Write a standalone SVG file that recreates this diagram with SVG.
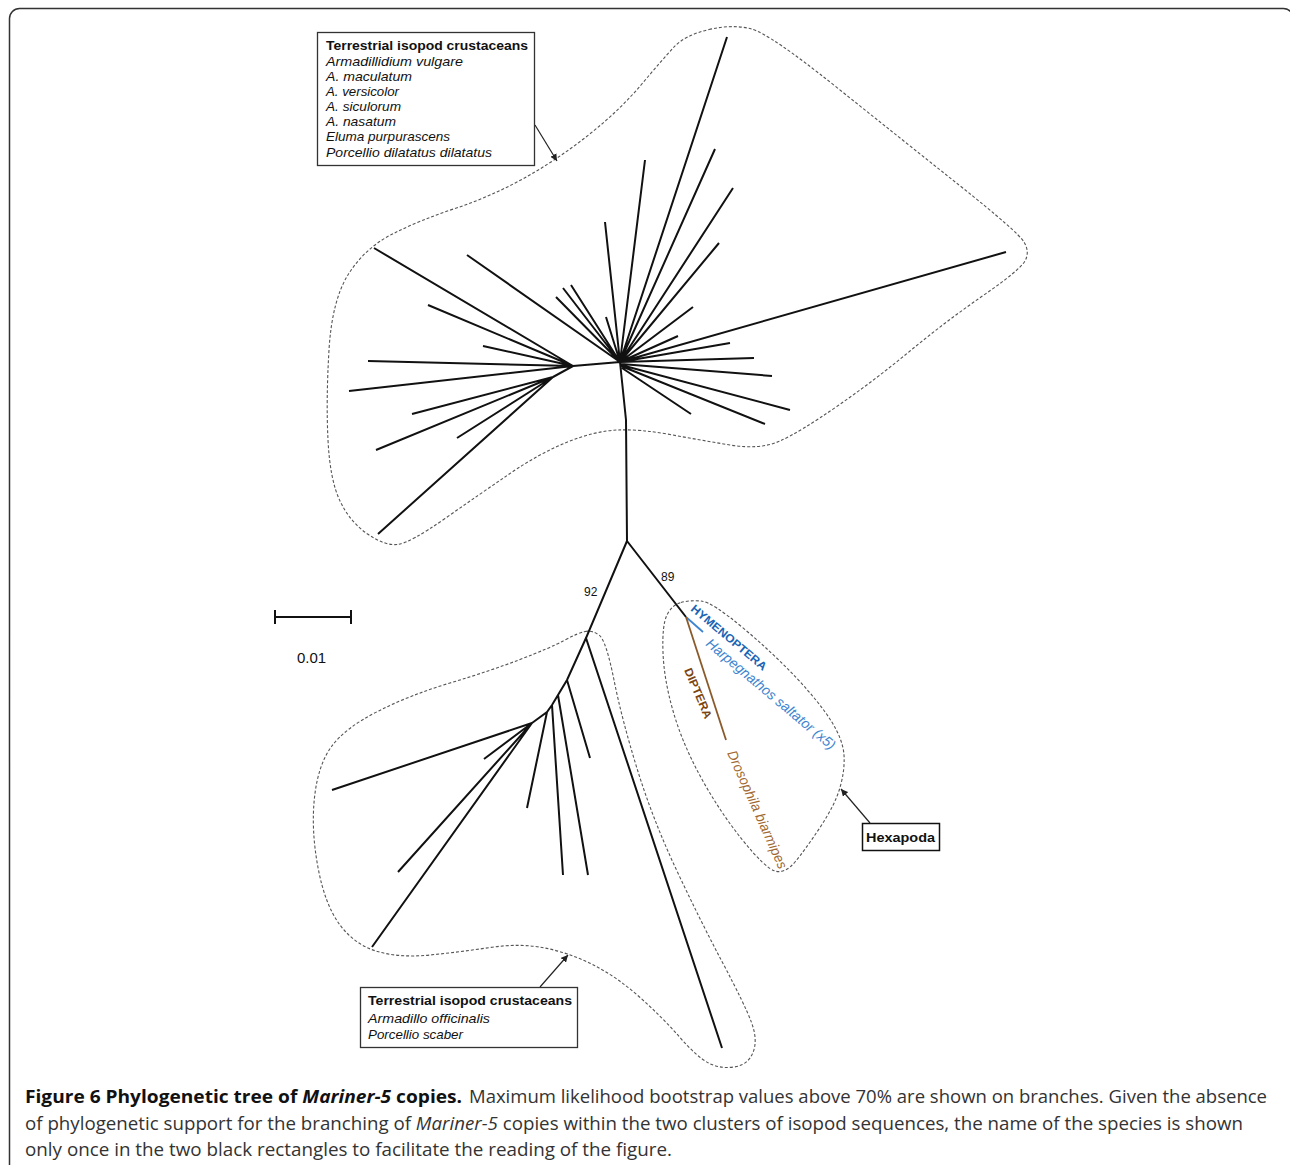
<svg xmlns="http://www.w3.org/2000/svg" width="1290" height="1165" viewBox="0 0 1290 1165">
<style>
.br{fill:none;stroke:#111;stroke-width:2;stroke-linecap:butt}
.dash{fill:none;stroke:#555;stroke-width:1.1;stroke-dasharray:3 2}
.box{fill:#fff;stroke:#333;stroke-width:1.3}
.bt{font-family:"Liberation Sans",Arial,sans-serif;font-size:13px;font-weight:bold;fill:#111}
.it{font-family:"Liberation Sans",Arial,sans-serif;font-size:13px;font-style:italic;fill:#111}
.num{font-family:"Liberation Sans",Arial,sans-serif;font-size:12px;fill:#111}
.cap{font-family:"Open Sans","Liberation Sans",sans-serif;font-size:18px;fill:#333}
.capb{font-family:"Open Sans","Liberation Sans",sans-serif;font-size:18px;font-weight:bold;fill:#111}
.arr{fill:none;stroke:#222;stroke-width:1.2}
</style>
<defs>
<marker id="ah" viewBox="0 0 10 10" refX="10" refY="5" markerWidth="7" markerHeight="7" markerUnits="userSpaceOnUse" orient="auto">
<path d="M0,0 L10,5 L0,10 Z" fill="#222"/>
</marker>
</defs>
<rect x="9.5" y="8.5" width="1284" height="1200" rx="10" fill="none" stroke="#333" stroke-width="1.5"/>

<g id="clusters">
<path id="top-cluster" class="dash" d="M 709,29.5 Q 733,24 751.5,29 Q 770,34 835,86 Q 900,138 959,185 Q 1018,232 1024,242 Q 1030,252 1025,261 Q 1020,270 982.5,296 Q 945,322 910,351 Q 875,380 837.5,406 Q 800,432 780,441 Q 760,450 730,445 Q 700,440 670,434.5 Q 640,429 617.5,430 Q 595,431 567.5,442 Q 540,453 510,473.5 Q 480,494 445,518.5 Q 410,543 397.5,544.5 Q 385,546 367.5,534 Q 350,522 340,501 Q 330,480 328,440 Q 326,400 329,350 Q 332,300 348.5,274 Q 365,248 392.5,234 Q 420,220 455,208.5 Q 490,197 523.5,178.5 Q 557,160 588.5,135 Q 620,110 641,85 Q 662,60 673.5,47.5 Q 685,35 709,29.5 Z"/>
<path id="bottom-cluster" class="dash" d="M 585,631.5 Q 592,630 599,635 Q 606,640 614,680 Q 622,720 637.5,770 Q 653,820 676.5,870 Q 700,920 722.5,962.5 Q 745,1005 751.5,1022.5 Q 758,1040 753,1052.5 Q 748,1065 734,1067 Q 720,1069 708.5,1063 Q 697,1057 679.5,1037 Q 662,1017 639.5,997 Q 617,977 593.5,965 Q 570,953 545,948 Q 520,943 490,947.5 Q 460,952 430,955 Q 400,958 377.5,951.5 Q 355,945 340,925 Q 325,905 318,867.5 Q 311,830 314.5,797.5 Q 318,765 331.5,746.5 Q 345,728 377.5,711.5 Q 410,695 450,683 Q 490,671 520,659.5 Q 550,648 564,640.5 Q 578,633 585,631.5 Z"/>
<path id="hexapoda-cluster" class="dash" d="M 681,602.5 Q 690,600 701,601 Q 712,602 742.5,627.5 Q 773,653 796.5,678 Q 820,703 831.5,721.5 Q 843,740 844,755 Q 845,770 840,787.5 Q 835,805 820,827.5 Q 805,850 795,862 Q 785,874 775,871 Q 765,868 742.5,840 Q 720,812 701.5,778.5 Q 683,745 673.5,712.5 Q 664,680 663,652.5 Q 662,625 667,615 Q 672,605 681,602.5 Z"/>
</g>

<g id="tree">
<path class="br" d="M620,362 L573,366 L553,377 M620,362 L626,420 L627,541
M573,366 L374,248 M573,366 L428,305 M573,366 L483,346 M573,366 L368,361 M573,366 L349,391
M553,377 L412,414 M553,377 L376,450 M553,377 L457,438 M553,377 L378,534
M620,362 L467,255 M620,362 L556,297 M620,362 L563,288 M620,362 L571,285 M620,362 L606,317 M620,362 L605,222 M620,362 L645,160 M620,362 L727,37 M620,362 L715,149 M620,362 L733,188 M620,362 L719,243 M620,362 L693,307 M620,362 L678,336 M620,362 L1006,252 M620,362 L730,343 M620,362 L754,358 M621,364 L772,376 M621,365 L790,410 M621,366 L765,424 M622,368 L691,414"/>
<path class="br" d="M627,541 L586,638 L722,1048 M586,638 L567,680 L558,695 L552,705 L547,712 L532,723
M567,680 L590,758 M558,695 L588,875 M552,705 L563,875 M547,712 L527,808
M532,723 L332,790 M532,723 L484,759 M532,723 L398,872 M532,723 L372,947
M627,541 L686,617"/>
<path d="M686,617 L703,632" fill="none" stroke="#3d85cf" stroke-width="1.8"/>
<path d="M686,617 L726,740" fill="none" stroke="#8b5a2b" stroke-width="1.8"/>
<text class="num" x="584" y="596">92</text>
<text class="num" x="661" y="581">89</text>
</g>

<g id="scale-bar">
<path class="br" d="M274,617 L352,617 M275,610 L275,624 M351,610 L351,624"/>
<text x="297" y="663" font-family="Liberation Sans, Arial, sans-serif" font-size="15" fill="#111">0.01</text>
</g>

<g id="hexapoda-labels">
<text transform="translate(690,610) rotate(40)" font-family="Liberation Sans, Arial, sans-serif" font-size="11.5" font-weight="bold" fill="#1a64b4" textLength="95" lengthAdjust="spacingAndGlyphs">HYMENOPTERA</text>
<text transform="translate(705,645) rotate(40)" font-family="Liberation Sans, Arial, sans-serif" font-size="14" font-style="italic" fill="#3d85cf" textLength="164" lengthAdjust="spacingAndGlyphs">Harpegnathos saltator (x5)</text>
<text transform="translate(684,670) rotate(67)" font-family="Liberation Sans, Arial, sans-serif" font-size="11.5" font-weight="bold" fill="#7b4512" textLength="54" lengthAdjust="spacingAndGlyphs">DIPTERA</text>
<text transform="translate(727,753) rotate(66)" font-family="Liberation Sans, Arial, sans-serif" font-size="14" font-style="italic" fill="#a0682f" textLength="128" lengthAdjust="spacingAndGlyphs">Drosophila biarmipes</text>
</g>

<g id="connectors">
<path class="arr" d="M535,125 L557,161" marker-end="url(#ah)"/>
<path class="arr" d="M540,987 L568,955" marker-end="url(#ah)"/>
<path class="arr" d="M870,823 L841,789" marker-end="url(#ah)"/>
</g>

<g id="box-top">
<rect class="box" x="317.5" y="32.5" width="217" height="133"/>
<text class="bt" x="326" y="50" textLength="202" lengthAdjust="spacingAndGlyphs">Terrestrial isopod crustaceans</text>
<text class="it" x="326" y="66" textLength="137" lengthAdjust="spacingAndGlyphs">Armadillidium vulgare</text>
<text class="it" x="326" y="81" textLength="86" lengthAdjust="spacingAndGlyphs">A. maculatum</text>
<text class="it" x="326" y="96" textLength="73" lengthAdjust="spacingAndGlyphs">A. versicolor</text>
<text class="it" x="326" y="111" textLength="75" lengthAdjust="spacingAndGlyphs">A. siculorum</text>
<text class="it" x="326" y="126" textLength="70" lengthAdjust="spacingAndGlyphs">A. nasatum</text>
<text class="it" x="326" y="141" textLength="124" lengthAdjust="spacingAndGlyphs">Eluma purpurascens</text>
<text class="it" x="326" y="157" textLength="166" lengthAdjust="spacingAndGlyphs">Porcellio dilatatus dilatatus</text>
</g>

<g id="box-bottom">
<rect class="box" x="360.5" y="987.5" width="217" height="60"/>
<text class="bt" x="368" y="1005" textLength="204" lengthAdjust="spacingAndGlyphs">Terrestrial isopod crustaceans</text>
<text class="it" x="368" y="1023" textLength="122" lengthAdjust="spacingAndGlyphs">Armadillo officinalis</text>
<text class="it" x="368" y="1039" textLength="95" lengthAdjust="spacingAndGlyphs">Porcellio scaber</text>
</g>

<g id="box-hexapoda">
<rect x="862.5" y="823.5" width="77" height="27" fill="#fff" stroke="#111" stroke-width="1.5"/>
<text class="bt" x="866" y="842" textLength="69" lengthAdjust="spacingAndGlyphs">Hexapoda</text>
</g>

<g id="caption">
<text class="capb" x="25" y="1103" textLength="437" lengthAdjust="spacingAndGlyphs">Figure 6 Phylogenetic tree of <tspan font-style="italic">Mariner-5</tspan> copies.</text>
<text class="cap" x="469" y="1103" textLength="798" lengthAdjust="spacingAndGlyphs">Maximum likelihood bootstrap values above 70% are shown on branches. Given the absence</text>
<text class="cap" x="25" y="1130" textLength="1218" lengthAdjust="spacingAndGlyphs">of phylogenetic support for the branching of <tspan font-style="italic">Mariner-5</tspan> copies within the two clusters of isopod sequences, the name of the species is shown</text>
<text class="cap" x="25" y="1156" textLength="647" lengthAdjust="spacingAndGlyphs">only once in the two black rectangles to facilitate the reading of the figure.</text>
</g>
</svg>
